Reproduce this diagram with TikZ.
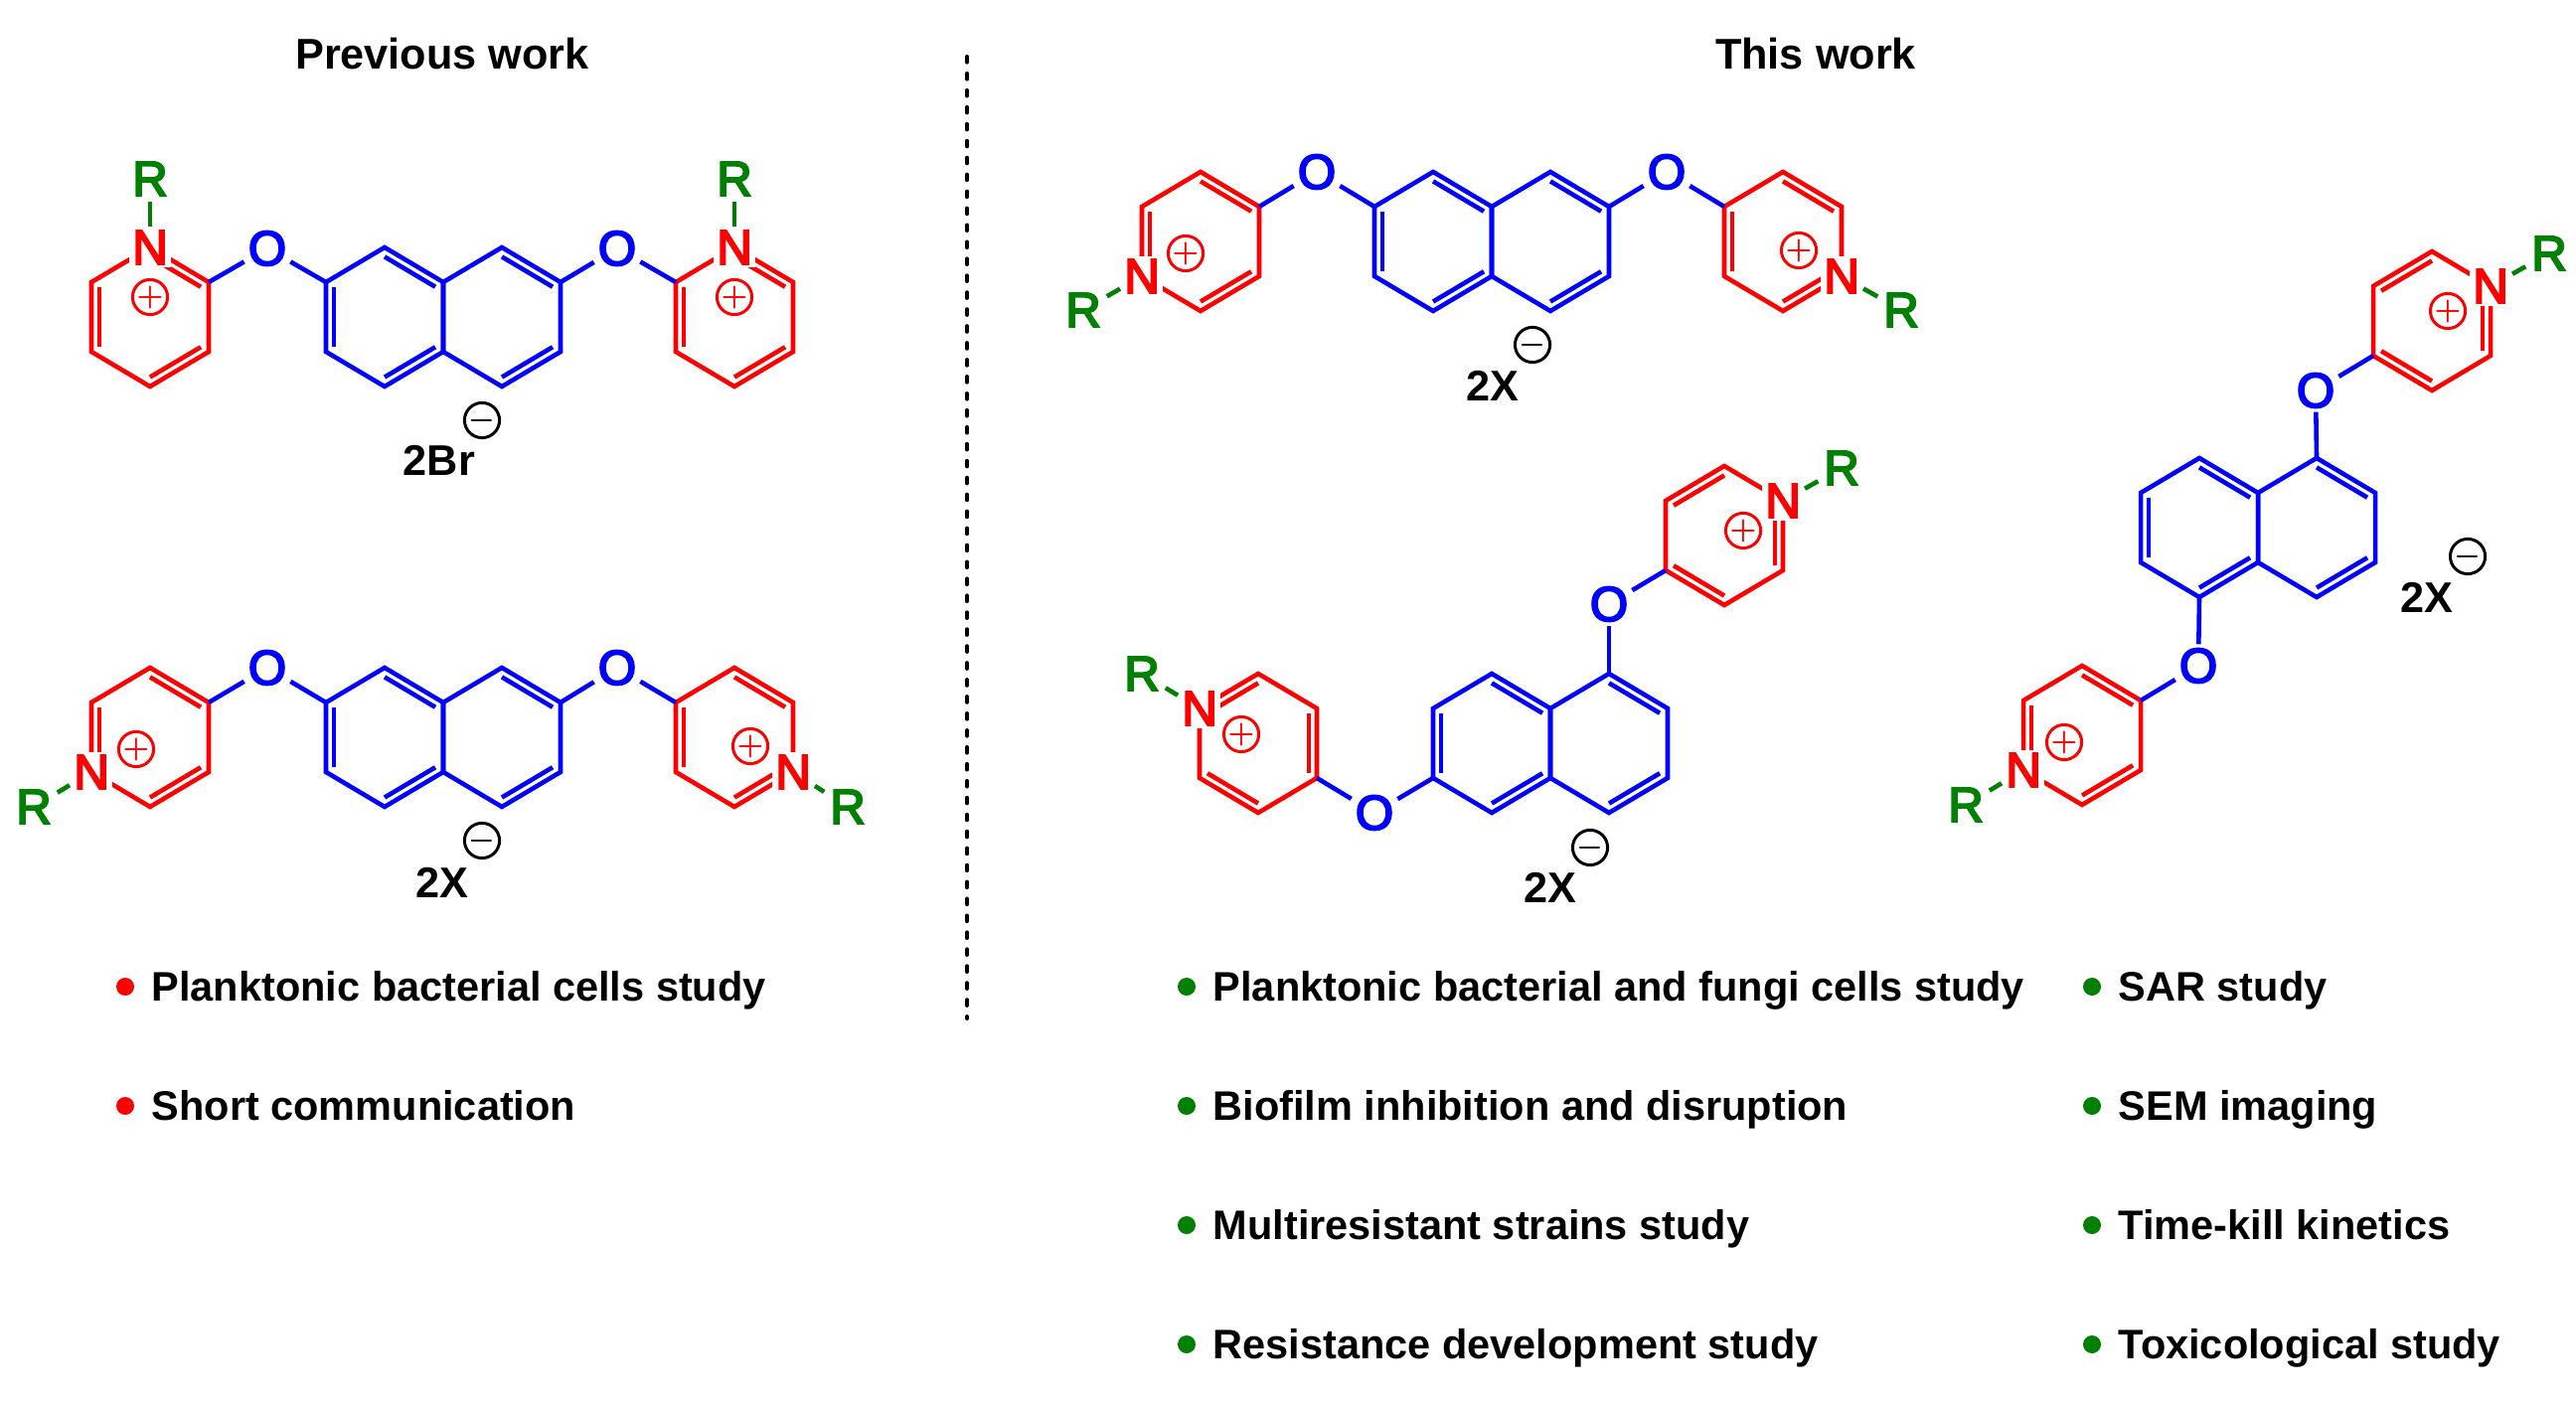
\documentclass[tikz,border=0pt]{standalone}
\usepackage{fontspec}
\setmainfont{Liberation Sans}
\newfontface\atomface[FakeBold=4]{Liberation Sans}
\usepackage{tikz}
\usetikzlibrary{calc}

\definecolor{ringred}{RGB}{255,0,0}
\definecolor{corebl}{RGB}{0,0,255}
\definecolor{rgreen}{RGB}{0,128,0}

\newcommand{\hexring}[4]{
    \coordinate (#1c) at (#2,#3);
    \coordinate (#11) at (#2,#3-70);
    \coordinate (#12) at (#2+59,#3-35);
    \coordinate (#13) at (#2+59,#3+35);
    \coordinate (#14) at (#2,#3+70);
    \coordinate (#15) at (#2-59,#3+35);
    \coordinate (#16) at (#2-59,#3-35);
    \draw[#4] (#11) -- (#12) -- (#13) -- (#14) -- (#15) -- (#16) -- cycle;
}
\newcommand{\dbl}[4]{
    \draw[#4] ($(#1#2)!0.135!(#1c)$) -- ($(#1#3)!0.135!(#1c)$);
}
\newcommand{\pyrA}[3]{
    \hexring{#1}{#2}{#3}{redbond}
    \dbl{#1}{1}{2}{redbond}
    \dbl{#1}{5}{6}{redbond}
    \dbl{#1}{3}{4}{redbond}
}
\newcommand{\pyrB}[3]{
    \hexring{#1}{#2}{#3}{redbond}
    \dbl{#1}{6}{1}{redbond}
    \dbl{#1}{2}{3}{redbond}
    \dbl{#1}{4}{5}{redbond}
}
\newcommand{\naph}[3]{
    \hexring{#1l}{#2}{#3}{bluebond}
    \hexring{#1r}{#2+118}{#3}{bluebond}
    \dbl{#1l}{1}{2}{bluebond}
    \dbl{#1l}{5}{6}{bluebond}
    \dbl{#1l}{3}{4}{bluebond}
    \dbl{#1r}{1}{2}{bluebond}
    \dbl{#1r}{3}{4}{bluebond}
}

\begin{document}
\begin{tikzpicture}[x=0.01cm, y=-0.01cm,
    redbond/.style={draw=ringred, line width=1.3pt},
    bluebond/.style={draw=corebl, line width=1.3pt},
    greenbond/.style={draw=rgreen, line width=1.3pt},
    atomN/.style={text=ringred, fill=white, inner sep=1pt, font=\fontsize{14}{14}\atomface},
    atomO/.style={text=corebl, inner sep=1pt, font=\fontsize{14}{14}\atomface},
    atomR/.style={text=rgreen, inner sep=1.5pt, font=\fontsize{14}{14}\atomface},
    plusion/.style={circle, draw=ringred, text=ringred, line width=0.85pt, minimum size=0.345cm, inner sep=0pt, font=\fontsize{8}{8}\selectfont\boldmath},
    minusion/.style={circle, draw=black, line width=0.85pt, minimum size=0.345cm, inner sep=0pt, font=\fontsize{8}{8}\selectfont\boldmath},
    salt/.style={anchor=base, inner sep=0pt, font=\fontsize{12.3}{12.3}\selectfont\bfseries},
    head/.style={anchor=base, inner sep=0pt, font=\fontsize{12.3}{12.3}\selectfont\bfseries},
    itemtext/.style={anchor=base west, inner sep=0pt, font=\fontsize{11.8}{11.8}\selectfont\bfseries},
    reddot/.style={circle, fill=ringred, minimum size=0.18cm, inner sep=0pt},
    greendot/.style={circle, fill=rgreen, minimum size=0.18cm, inner sep=0pt},
    ]

    \useasboundingbox (0,0) rectangle (2592,1410);

    \node[head] (prev) at (445,70) {Previous work};
    \node[head] (this) at (1827,70) {This work};
    \coordinate (sepa) at (973,57);
    \coordinate (sepb) at (973,1025);
    \draw[line width=1.15pt, line cap=round, dash pattern=on 1.6pt off 3.22pt] (sepa) -- (sepb);

    \pyrA{pa}{151}{319}
    \naph{na}{387}{319}
    \pyrA{pb}{739}{319}
    \node[atomN] (Na) at (pa1) {N};
    \node[atomN] (Nb) at (pb1) {N};
    \node[atomO] (Oa) at (269,250) {O};
    \node[atomO] (Ob) at (621,250) {O};
    \node[atomR] (Ra) at (151,180) {R};
    \node[atomR] (Rb) at (739,180) {R};
    \draw[bluebond] (pa2) -- (Oa);
    \draw[bluebond] (Oa) -- (nal6);
    \draw[bluebond] (nar2) -- (Ob);
    \draw[bluebond] (Ob) -- (pb6);
    \draw[greenbond] (Ra) -- (Na);
    \draw[greenbond] (Rb) -- (Nb);
    \node[plusion] (qa) at (151,299) {$+$};
    \node[plusion] (qb) at (739,299) {$+$};
    \node[minusion] (ma) at (485,423) {$-$};
    \node[salt] (sa) at (442,479) {2Br};

    \pyrA{pc}{151}{742}
    \naph{nb}{387}{742}
    \pyrA{pd}{739}{742}
    \node[atomN] (Nc) at (pc5) {N};
    \node[atomN] (Nd) at (pd3) {N};
    \node[atomO] (Oc) at (269,672) {O};
    \node[atomO] (Od) at (621,672) {O};
    \node[atomR] (Rc) at (34,812) {R};
    \node[atomR] (Rd) at (853,812) {R};
    \draw[bluebond] (pc2) -- (Oc);
    \draw[bluebond] (Oc) -- (nbl6);
    \draw[bluebond] (nbr2) -- (Od);
    \draw[bluebond] (Od) -- (pd6);
    \draw[greenbond] (Rc) -- (Nc);
    \draw[greenbond] (Rd) -- (Nd);
    \node[plusion] (qc) at (137,754) {$+$};
    \node[plusion] (qd) at (755,751) {$+$};
    \node[minusion] (mb) at (485,846) {$-$};
    \node[salt] (sb) at (445,903) {2X};

    \pyrA{pe}{1208}{243}
    \naph{nc}{1442}{243}
    \pyrA{pf}{1794}{243}
    \node[atomN] (Ne) at (pe5) {N};
    \node[atomN] (Nf) at (pf3) {N};
    \node[atomO] (Oe) at (1325,173) {O};
    \node[atomO] (Of) at (1677,173) {O};
    \node[atomR] (Re) at (1090,312) {R};
    \node[atomR] (Rf) at (1913,312) {R};
    \draw[bluebond] (pe2) -- (Oe);
    \draw[bluebond] (Oe) -- (ncl6);
    \draw[bluebond] (ncr2) -- (Of);
    \draw[bluebond] (Of) -- (pf6);
    \draw[greenbond] (Re) -- (Ne);
    \draw[greenbond] (Rf) -- (Nf);
    \node[plusion] (qe) at (1193,255) {$+$};
    \node[plusion] (qf) at (1810,252) {$+$};
    \node[minusion] (mc) at (1542,347) {$-$};
    \node[salt] (sc) at (1502,404) {2X};

    \pyrB{pg}{1266}{748}
    \naph{nd}{1501}{748}
    \pyrB{ph}{1735}{539}
    \node[atomN] (Ng) at (pg6) {N};
    \node[atomN] (Nh) at (ph2) {N};
    \node[atomO] (Og) at (1383,818) {O};
    \node[atomO] (Oh) at (1619,608) {O};
    \node[atomR] (Rg) at (1149,678) {R};
    \node[atomR] (Rh) at (1853,471) {R};
    \draw[bluebond] (pg3) -- (Og);
    \draw[bluebond] (Og) -- (ndl5);
    \draw[bluebond] (ndr1) -- (Oh);
    \draw[bluebond] (Oh) -- (ph5);
    \draw[greenbond] (Rg) -- (Ng);
    \draw[greenbond] (Rh) -- (Nh);
    \node[plusion] (qg) at (1249,739) {$+$};
    \node[plusion] (qh) at (1754,534) {$+$};
    \node[minusion] (md) at (1600,853) {$-$};
    \node[salt] (sd) at (1560,908) {2X};

    \pyrA{pi}{2095}{740}
    \naph{ne}{2213}{531}
    \pyrB{pj}{2447}{323}
    \node[atomN] (Ni) at (pi5) {N};
    \node[atomN] (Nj) at (pj2) {N};
    \node[atomO] (Oi) at (2212,670) {O};
    \node[atomO] (Oj) at (2330,393) {O};
    \node[atomR] (Ri) at (1978,810) {R};
    \node[atomR] (Rj) at (2565,255) {R};
    \draw[bluebond] (pi2) -- (Oi);
    \draw[bluebond] (Oi) -- (nel4);
    \draw[bluebond] (ner1) -- (Oj);
    \draw[bluebond] (Oj) -- (pj5);
    \draw[greenbond] (Ri) -- (Ni);
    \draw[greenbond] (Rj) -- (Nj);
    \node[plusion] (qi) at (2077,747) {$+$};
    \node[plusion] (qj) at (2463,313) {$+$};
    \node[minusion] (me) at (2483,560) {$-$};
    \node[salt] (se) at (2442,617) {2X};

    \node[reddot] (da) at (126,993) {};
    \node[itemtext] (ta) at (152,1007) {Planktonic bacterial cells study};
    \node[reddot] (db) at (126,1113) {};
    \node[itemtext] (tb) at (152,1127) {Short communication};

    \node[greendot] (dc) at (1194,993) {};
    \node[itemtext] (tc) at (1220,1007) {Planktonic bacterial and fungi cells study};
    \node[greendot] (dd) at (1194,1113) {};
    \node[itemtext] (td) at (1220,1127) {Biofilm inhibition and disruption};
    \node[greendot] (de) at (1194,1233) {};
    \node[itemtext] (te) at (1220,1247) {Multiresistant strains study};
    \node[greendot] (df) at (1194,1353) {};
    \node[itemtext] (tf) at (1220,1367) {Resistance development study};

    \node[greendot] (dg) at (2105,993) {};
    \node[itemtext] (tg) at (2131,1007) {SAR study};
    \node[greendot] (dh) at (2105,1113) {};
    \node[itemtext] (th) at (2131,1127) {SEM imaging};
    \node[greendot] (di) at (2105,1233) {};
    \node[itemtext] (ti) at (2131,1247) {Time-kill kinetics};
    \node[greendot] (dj) at (2105,1353) {};
    \node[itemtext] (tj) at (2131,1367) {Toxicological study};
\end{tikzpicture}
\end{document}
